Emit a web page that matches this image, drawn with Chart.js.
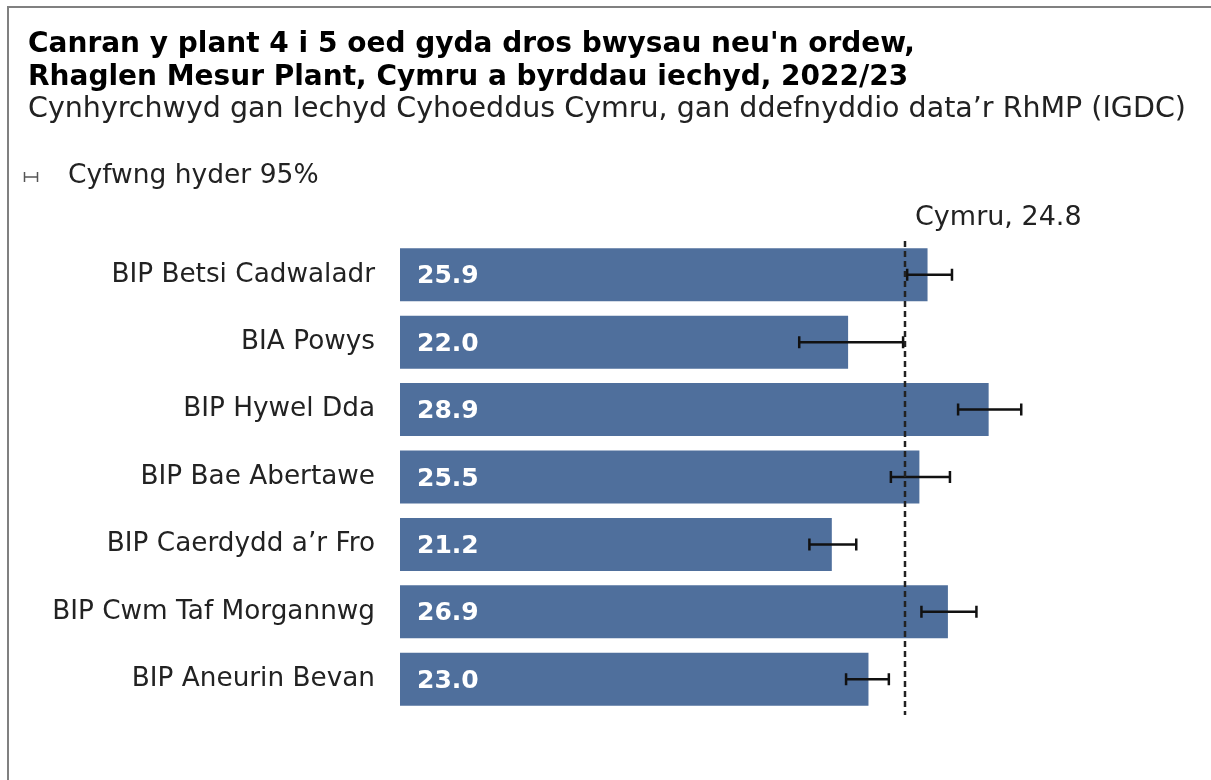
<!DOCTYPE html>
<html>
<head>
<meta charset="utf-8">
<script src="https://cdn.jsdelivr.net/npm/chart.js@4"></script>
<style>
  body { margin: 0; background: #fff; }
  #wrap { position: relative; width: 1211px; height: 780px; }
  #frame { position: absolute; left: 7px; top: 6px; width: 1240px; height: 800px;
           border-left: 2px solid #808080; border-top: 2px solid #808080; pointer-events: none; }
</style>
</head>
<body>
<div id="wrap">
  <canvas id="obesityChart"></canvas>
  <div id="frame"></div>
</div>
<script>
const boards = ['BIP Betsi Cadwaladr', 'BIA Powys', 'BIP Hywel Dda', 'BIP Bae Abertawe',
                'BIP Caerdydd a\u2019r Fro', 'BIP Cwm Taf Morgannwg', 'BIP Aneurin Bevan'];
const percent = [25.9, 22.0, 28.9, 25.5, 21.2, 26.9, 23.0];
const ciLower = [24.9, 19.6, 27.4, 24.1, 20.1, 25.6, 21.9];
const ciUpper = [27.1, 24.7, 30.5, 27.0, 22.4, 28.3, 24.0];
const walesValue = 24.8;

const titleLines = ['Canran y plant 4 i 5 oed gyda dros bwysau neu\'n ordew,',
                    'Rhaglen Mesur Plant, Cymru a byrddau iechyd, 2022/23'];
const subtitle = 'Cynhyrchwyd gan Iechyd Cyhoeddus Cymru, gan ddefnyddio data\u2019r RhMP (IGDC)';
const legendText = 'Cyfwng hyder 95%';

const FONT = '"DejaVu Sans", Verdana, sans-serif';

const decorations = {
    id: 'decorations',
    afterDatasetsDraw(chart) {
        const c = chart.ctx;
        const x = chart.scales.x;
        const y = chart.scales.y;
        const area = chart.chartArea;
        c.save();

        // value labels inside bars
        c.fillStyle = '#fff';
        c.font = 'bold 25px ' + FONT;
        c.textBaseline = 'middle';
        c.textAlign = 'left';
        percent.forEach((v, i) => {
            c.fillText(v.toFixed(1), x.getPixelForValue(0) + 17, y.getPixelForValue(i) + 2);
        });

        // error bars
        c.strokeStyle = '#111';
        c.lineWidth = 2.5;
        ciLower.forEach((lo, i) => {
            const yy = y.getPixelForValue(i);
            const x1 = x.getPixelForValue(lo);
            const x2 = x.getPixelForValue(ciUpper[i]);
            c.beginPath();
            c.moveTo(x1, yy); c.lineTo(x2, yy);
            c.moveTo(x1, yy - 6); c.lineTo(x1, yy + 6);
            c.moveTo(x2, yy - 6); c.lineTo(x2, yy + 6);
            c.stroke();
        });

        // Wales reference line
        const wx = Math.round(x.getPixelForValue(walesValue));
        c.setLineDash([6, 4]);
        c.lineWidth = 2.5;
        c.strokeStyle = '#222';
        c.beginPath();
        c.moveTo(wx, area.top);
        c.lineTo(wx, area.bottom + 2);
        c.stroke();
        c.setLineDash([]);
        c.fillStyle = '#222';
        c.font = '27px ' + FONT;
        c.textBaseline = 'middle';
        c.fillText('Cymru, ' + walesValue.toFixed(1), wx + 10, 218);

        // titles
        c.fillStyle = '#000';
        c.textBaseline = 'alphabetic';
        c.font = 'bold 28px ' + FONT;
        c.fillText(titleLines[0], 28, 52);
        c.fillText(titleLines[1], 28, 85);
        c.fillStyle = '#222';
        c.font = '28.5px ' + FONT;
        c.fillText(subtitle, 28, 117);

        // legend
        c.strokeStyle = '#555';
        c.lineWidth = 1.5;
        c.beginPath();
        c.moveTo(24, 177); c.lineTo(38, 177);
        c.moveTo(24.5, 172); c.lineTo(24.5, 182);
        c.moveTo(37.5, 172); c.lineTo(37.5, 182);
        c.stroke();
        c.fillStyle = '#222';
        c.font = '26.5px ' + FONT;
        c.textBaseline = 'middle';
        c.fillText(legendText, 68, 176);

        c.restore();
    }
};

new Chart(document.getElementById('obesityChart'), {
    type: 'bar',
    data: {
        labels: boards,
        datasets: [{
            data: percent,
            backgroundColor: '#4f6f9c',
            barPercentage: 0.786,
            categoryPercentage: 1
        }]
    },
    options: {
        indexAxis: 'y',
        responsive: true,
        maintainAspectRatio: false,
        animation: false,
        layout: { padding: { top: 241, bottom: 67, left: 0, right: 37 } },
        plugins: {
            legend: { display: false },
            tooltip: { enabled: false }
        },
        scales: {
            x: { display: false, min: 0, max: 38 },
            y: {
                grid: { display: false, drawTicks: false },
                border: { display: false },
                ticks: { color: '#222', padding: 25, font: { family: FONT, size: 26.3 } },
                afterFit(scale) { scale.width = 400; }
            }
        }
    },
    plugins: [decorations]
});
</script>
</body>
</html>
